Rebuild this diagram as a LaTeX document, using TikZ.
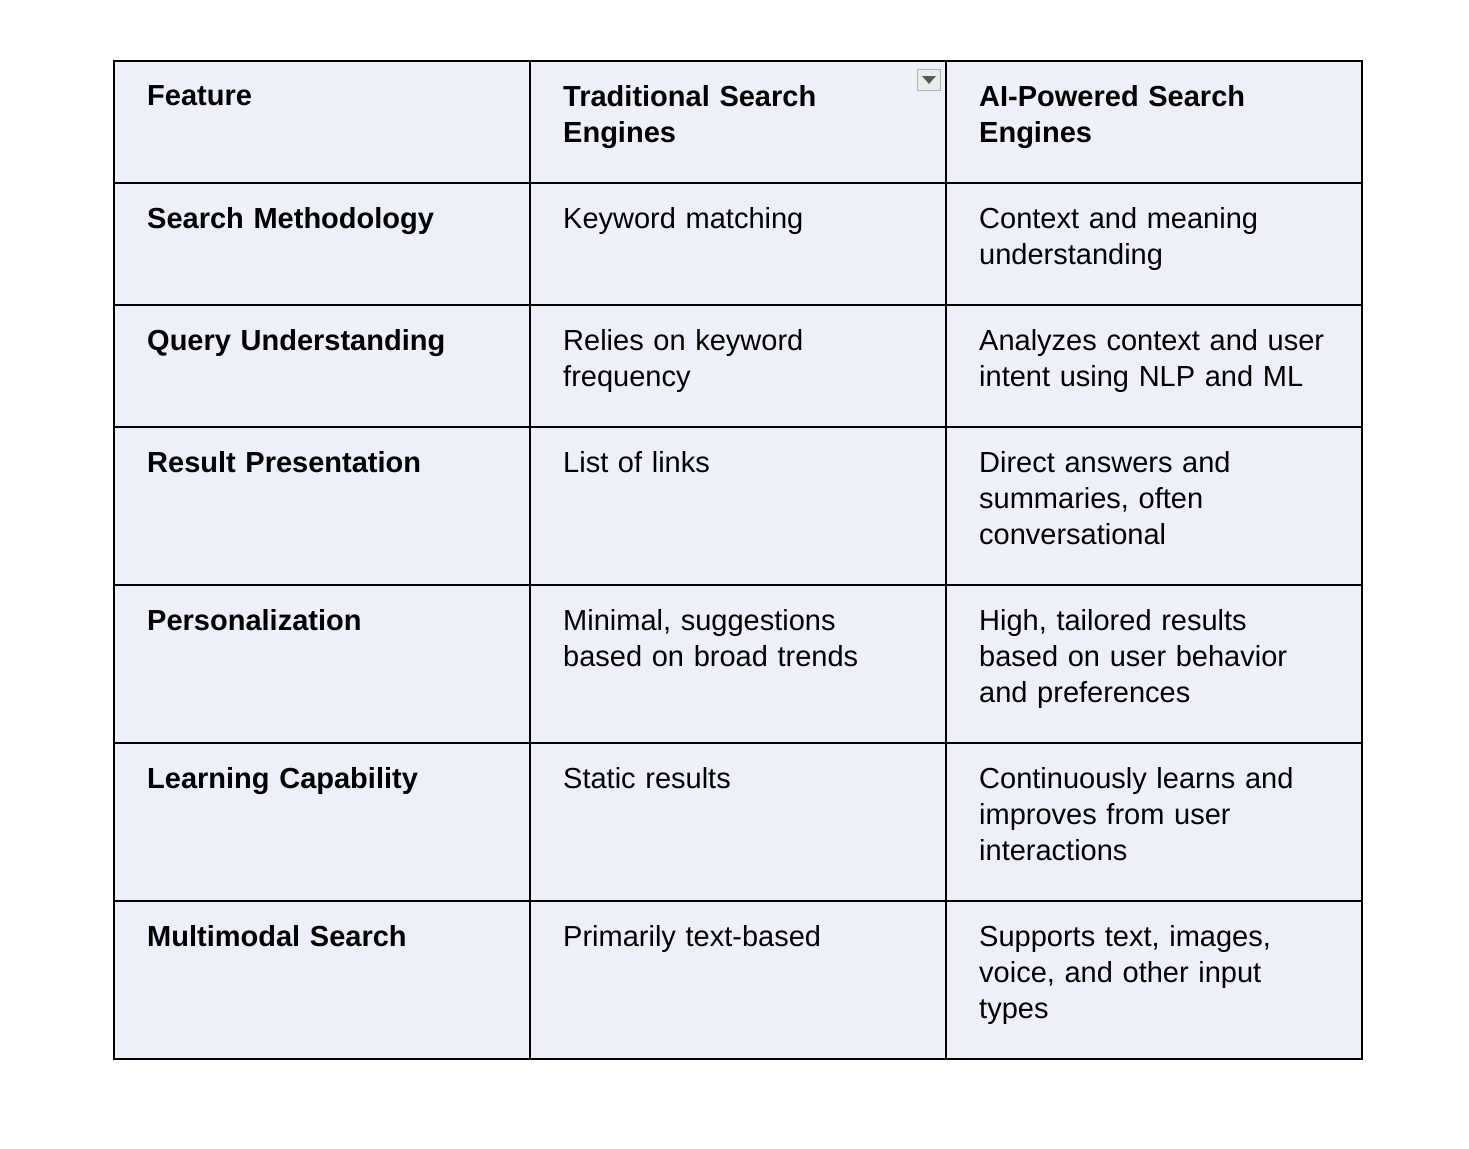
\documentclass[tikz,border=0pt]{standalone}
\usepackage{fontspec}
\setmainfont{Liberation Sans}
\definecolor{cellbg}{RGB}{237,240,248}
\begin{document}
\begin{tikzpicture}[x=1pt,y=-1pt,
    cell/.style = {anchor=north west, inner sep=0pt, text width=370pt, align=left, font=\fontsize{29}{36}\selectfont},
    head/.style = {cell, font=\fontsize{29}{36}\selectfont\bfseries}]
\useasboundingbox (0,0) rectangle (1469,1148);
\fill[cellbg] (114,61) rectangle (1362,1059);
% grid
\draw[line width=1.5pt] (114,61) rectangle (1362,1059);
\draw[line width=1.5pt] (530,61) -- (530,1059) (946,61) -- (946,1059);
\foreach \y in {183,305,427,585,743,901}
  \draw[line width=1.5pt] (114,\y) -- (1362,\y);
% dropdown
\node[draw=gray!60, fill=gray!15, minimum width=23pt, minimum height=21pt, inner sep=0pt] (drop) at (929,80) {};
\fill[gray!70!black] (922,76) -- (936,76) -- (929,84) -- cycle;

\node[head] (f0) at (147,85) {Feature};
\node[head] (t0) at (563,85) {Traditional Search\\Engines};
\node[head] (a0) at (979,85) {AI-Powered Search\\Engines};

\node[head] (f1) at (147,207) {Search Methodology};
\node[cell] (t1) at (563,207) {Keyword matching};
\node[cell] (a1) at (979,207) {Context and meaning\\understanding};

\node[head] (f2) at (147,329) {Query Understanding};
\node[cell] (t2) at (563,329) {Relies on keyword\\frequency};
\node[cell] (a2) at (979,329) {Analyzes context and user\\intent using NLP and ML};

\node[head] (f3) at (147,451) {Result Presentation};
\node[cell] (t3) at (563,451) {List of links};
\node[cell] (a3) at (979,451) {Direct answers and\\summaries, often\\conversational};

\node[head] (f4) at (147,609) {Personalization};
\node[cell] (t4) at (563,609) {Minimal, suggestions\\based on broad trends};
\node[cell] (a4) at (979,609) {High, tailored results\\based on user behavior\\and preferences};

\node[head] (f5) at (147,767) {Learning Capability};
\node[cell] (t5) at (563,767) {Static results};
\node[cell] (a5) at (979,767) {Continuously learns and\\improves from user\\interactions};

\node[head] (f6) at (147,925) {Multimodal Search};
\node[cell] (t6) at (563,925) {Primarily text-based};
\node[cell] (a6) at (979,925) {Supports text, images,\\voice, and other input\\types};
\end{tikzpicture}
\end{document}
